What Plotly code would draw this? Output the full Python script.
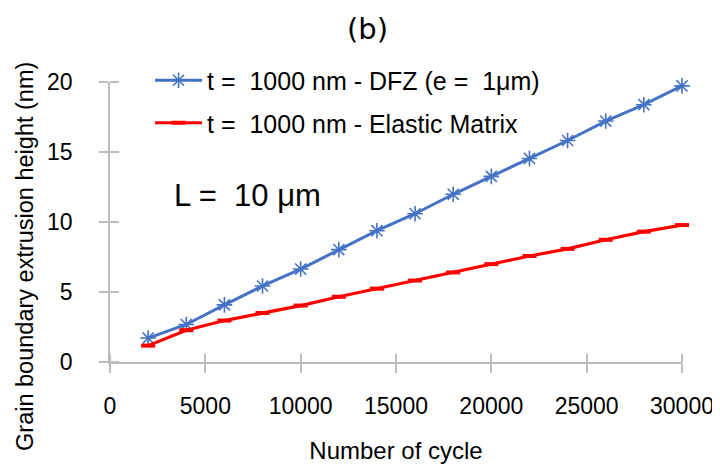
import plotly.graph_objects as go

cycles = [2000, 4000, 6000, 8000, 10000, 12000, 14000, 16000, 18000, 20000,
          22000, 24000, 26000, 28000, 30000]
dfz = [1.71, 2.68, 4.08, 5.43, 6.64, 8.03, 9.38, 10.59, 11.98, 13.26,
       14.54, 15.82, 17.21, 18.38, 19.72]
elastic = [1.17, 2.27, 2.96, 3.50, 4.03, 4.66, 5.24, 5.82, 6.40, 6.99,
           7.57, 8.08, 8.73, 9.31, 9.78]
name_dfz = "t =\u00a0 1000 nm - DFZ (e =\u00a0 1\u03bcm)"
name_el = "t =\u00a0 1000 nm - Elastic Matrix"
x_ticks = [0, 5000, 10000, 15000, 20000, 25000, 30000]
x_ticktext = ["0", "5000", "10000", "15000", "20000", "25000", "30000"]
y_ticks = [0, 5, 10, 15, 20]
y_ticktext = ["0", "5", "10", "15", "20"]

BLUE = "#4472C4"
RED = "#FF0000"
GRAY = "#BDBDBD"
FONT = "Liberation Sans, Arial, sans-serif"
TICKLEN = 9

# margins (page body adds an 8px offset)
L, R, T, B = 102, 46, 74, 103.5
W, H = 720, 464
pw, ph = W - L - R, H - T - B


def px(xw):
    return (xw - 8 - L) / pw


def py(yw):
    return (H - B - (yw - 8)) / ph


fig = go.Figure()
fig.add_trace(go.Scatter(
    x=cycles, y=dfz, name=name_dfz, mode="lines+markers", legendgroup="a",
    line=dict(color=BLUE, width=3),
    marker=dict(symbol="asterisk-open", size=13, color=BLUE,
                line=dict(color=BLUE, width=1.6)),
    cliponaxis=False))
fig.add_trace(go.Scatter(
    x=cycles, y=elastic, name=name_el, mode="lines+markers", legendgroup="b",
    line=dict(color=RED, width=3.2),
    marker=dict(symbol="line-ew-open", size=10, color=RED,
                line=dict(color=RED, width=4)),
    cliponaxis=False))
# transparent copies on the helper axes so they get drawn; the helper axes
# sit one tick-length inside the plot and supply the inner half of each tick
fig.add_trace(go.Scatter(x=cycles, y=dfz, xaxis="x", yaxis="y2",
                         mode="lines", opacity=0, line=dict(width=0.1),
                         showlegend=False, hoverinfo="skip"))
fig.add_trace(go.Scatter(x=cycles, y=dfz, xaxis="x2", yaxis="y",
                         mode="lines", opacity=0, line=dict(width=0.1),
                         showlegend=False, hoverinfo="skip"))

axis_common = dict(showgrid=False, zeroline=False, linecolor=GRAY,
                   linewidth=1.5, tickcolor=GRAY, tickwidth=1.5,
                   ticklen=TICKLEN, layer="above traces",
                   tickfont=dict(family=FONT, size=23, color="#000"))
helper = dict(ticks="outside", ticklen=TICKLEN, tickcolor=GRAY,
              tickwidth=1.5, showgrid=False, showticklabels=False,
              showline=False, zeroline=False, anchor="free",
              layer="above traces")

fig.update_layout(
    width=W, height=H,
    margin=dict(l=L, r=R, t=T, b=B),
    paper_bgcolor="white", plot_bgcolor="rgba(0,0,0,0)",
    font=dict(family=FONT, color="#000"),
    showlegend=True,
    legend=dict(x=0.07, y=1.0875, xanchor="left", yanchor="top",
                bgcolor="rgba(0,0,0,0)", font=dict(family=FONT, size=25),
                tracegroupgap=7, traceorder="grouped", itemwidth=47),
    xaxis=dict(range=[0, 30000], tickvals=x_ticks, ticktext=x_ticktext,
               ticks="outside", showline=True, ticklabelstandoff=14,
               title=dict(text="Number of cycle",
                          font=dict(family=FONT, size=24), standoff=24),
               **axis_common),
    yaxis=dict(range=[0, 20], tickvals=y_ticks, ticktext=y_ticktext,
               ticks="outside", showline=True, ticklabelstandoff=22,
               **axis_common),
    xaxis2=dict(overlaying="x", range=[0, 30000], position=TICKLEN / ph,
                side="bottom", tickvals=x_ticks, **helper),
    yaxis2=dict(overlaying="y", range=[0, 20], position=TICKLEN / pw,
                side="left", tickvals=y_ticks, **helper),
    annotations=[
        dict(text="(b)", x=px(367), y=py(28), xref="paper", yref="paper",
             xanchor="center", yanchor="middle", showarrow=False,
             font=dict(family="DejaVu Sans", size=29)),
        dict(text="L =\u00a0 10 \u03bcm", x=px(247.5), y=py(198),
             xref="paper", yref="paper", xanchor="center", yanchor="middle",
             showarrow=False, font=dict(family=FONT, size=31)),
        dict(text="Grain boundary extrusion height (nm)", textangle=-90,
             x=px(25), y=py(261), xref="paper", yref="paper",
             showarrow=False, xanchor="center", yanchor="middle",
             font=dict(family=FONT, size=23.5)),
    ],
)

fig.write_html("out.html")
